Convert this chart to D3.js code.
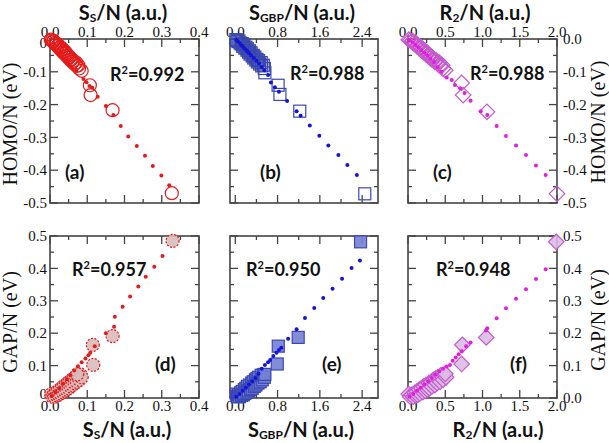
<!DOCTYPE html>
<html>
<head>
<meta charset="utf-8">
<script src="https://cdn.jsdelivr.net/npm/d3@7"></script>
<style>
  body { margin: 0; background: #fff; }
  text { fill: #111; }
</style>
</head>
<body>
<div id="plot"></div>
<script>
// tick values
const ticksSs = [0, 0.1, 0.2, 0.3, 0.4];
const ticksSgbp = [0, 0.8, 1.6, 2.4];
const ticksR2 = [0, 0.5, 1.0, 1.5, 2.0];
const ticksHomo = [0, -0.1, -0.2, -0.3, -0.4, -0.5];
const ticksGap = [0, 0.1, 0.2, 0.3, 0.4, 0.5];

const r2Values = ["0.992", "0.988", "0.988", "0.957", "0.950", "0.948"];
const panelNames = ["(a)", "(b)", "(c)", "(d)", "(e)", "(f)"];

// (a) Ss/N vs HOMO/N : big symbols, then small dots
const markersA = [[0.002,-0.002],[0.005,-0.004],[0.008,-0.008],[0.010,-0.006],[0.012,-0.012],[0.015,-0.015],
  [0.018,-0.014],[0.020,-0.022],[0.022,-0.018],[0.025,-0.028],[0.028,-0.025],[0.030,-0.034],[0.033,-0.030],
  [0.035,-0.040],[0.038,-0.036],[0.040,-0.046],[0.043,-0.042],[0.045,-0.052],[0.048,-0.050],[0.050,-0.058],
  [0.053,-0.055],[0.055,-0.064],[0.058,-0.062],[0.060,-0.070],[0.063,-0.066],[0.066,-0.076],[0.070,-0.072],
  [0.072,-0.082],[0.076,-0.080],[0.078,-0.090],[0.085,-0.097],[0.107,-0.141],[0.109,-0.171],[0.168,-0.217],
  [0.327,-0.470]];
const dotsA = [[0.01,-0.012],[0.03,-0.04],[0.05,-0.068],[0.07,-0.095],[0.09,-0.122],[0.098,-0.132],
  [0.106,-0.143],[0.113,-0.148],[0.128,-0.176],[0.150,-0.204],[0.170,-0.232],[0.190,-0.265],[0.210,-0.297],
  [0.233,-0.326],[0.255,-0.356],[0.276,-0.387],[0.299,-0.416],[0.320,-0.446]];

// (b) SGBP/N vs HOMO/N
const markersB = [[0.01,-0.002],[0.03,-0.004],[0.05,-0.008],[0.07,-0.006],[0.09,-0.012],[0.11,-0.015],
  [0.13,-0.014],[0.14,-0.022],[0.16,-0.018],[0.18,-0.028],[0.20,-0.025],[0.22,-0.034],[0.23,-0.030],
  [0.25,-0.040],[0.27,-0.036],[0.28,-0.046],[0.30,-0.042],[0.32,-0.052],[0.34,-0.050],[0.35,-0.058],
  [0.37,-0.055],[0.39,-0.064],[0.41,-0.062],[0.42,-0.070],[0.44,-0.066],[0.46,-0.076],[0.49,-0.072],
  [0.50,-0.082],[0.53,-0.080],[0.55,-0.090],[0.56,-0.103],[0.81,-0.141],[0.845,-0.169],[1.22,-0.220],
  [2.45,-0.472]];
const dotsB = [[0.02,-0.003],[0.05,-0.008],[0.08,-0.012],[0.11,-0.018],[0.14,-0.022],[0.17,-0.028],
  [0.20,-0.033],[0.23,-0.038],[0.26,-0.043],[0.30,-0.050],[0.35,-0.058],[0.40,-0.066],[0.45,-0.075],
  [0.50,-0.085],[0.55,-0.095],[0.62,-0.110],[0.675,-0.133],[0.75,-0.147],[0.826,-0.161],[0.98,-0.189],
  [1.16,-0.220],[1.236,-0.234],[1.41,-0.264],[1.59,-0.295],[1.76,-0.325],[1.95,-0.354],[2.12,-0.384],
  [2.30,-0.415]];

// (c) R2/N vs HOMO/N
const markersC = [[0.01,-0.002],[0.03,-0.004],[0.05,-0.008],[0.06,-0.006],[0.07,-0.012],[0.09,-0.015],
  [0.11,-0.014],[0.12,-0.022],[0.13,-0.018],[0.15,-0.028],[0.17,-0.025],[0.18,-0.034],[0.20,-0.030],
  [0.21,-0.040],[0.23,-0.036],[0.24,-0.046],[0.26,-0.042],[0.27,-0.052],[0.29,-0.050],[0.30,-0.058],
  [0.32,-0.055],[0.33,-0.064],[0.35,-0.062],[0.36,-0.070],[0.38,-0.066],[0.40,-0.076],[0.42,-0.072],
  [0.43,-0.082],[0.46,-0.080],[0.47,-0.090],[0.50,-0.095],[0.72,-0.134],[0.74,-0.171],[1.06,-0.222],
  [2.00,-0.472]];
const dotsC = [[0.02,-0.004],[0.06,-0.010],[0.10,-0.018],[0.14,-0.026],[0.18,-0.034],[0.22,-0.042],
  [0.26,-0.050],[0.30,-0.060],[0.35,-0.070],[0.40,-0.085],[0.45,-0.100],[0.52,-0.117],[0.587,-0.125],
  [0.63,-0.140],[0.70,-0.150],[0.76,-0.165],[0.84,-0.188],[0.976,-0.220],[1.064,-0.232],[1.19,-0.265],
  [1.315,-0.296],[1.45,-0.325],[1.584,-0.354],[1.718,-0.386],[1.848,-0.415]];

// (d) Ss/N vs GAP/N
const markersD = [[0.003,0.012],[0.006,0.004],[0.010,0.010],[0.012,0.004],[0.015,0.016],[0.018,0.008],
  [0.020,0.020],[0.023,0.010],[0.026,0.026],[0.028,0.014],[0.031,0.030],[0.034,0.018],[0.036,0.036],
  [0.039,0.022],[0.042,0.040],[0.044,0.026],[0.047,0.046],[0.050,0.030],[0.052,0.050],[0.055,0.036],
  [0.058,0.056],[0.060,0.040],[0.063,0.060],[0.066,0.046],[0.068,0.064],[0.072,0.050],[0.075,0.070],
  [0.079,0.056],[0.082,0.072],[0.085,0.064],[0.073,0.073],[0.116,0.102],[0.115,0.164],[0.168,0.191],
  [0.329,0.485]];
const dotsD = [[0.005,0.006],[0.015,0.018],[0.025,0.030],[0.035,0.045],[0.045,0.058],[0.055,0.070],
  [0.065,0.085],[0.075,0.098],[0.085,0.110],[0.095,0.122],[0.103,0.132],[0.108,0.140],[0.120,0.160],
  [0.150,0.200],[0.172,0.220],[0.174,0.251],[0.195,0.282],[0.215,0.313],[0.237,0.344],[0.257,0.374],
  [0.280,0.405],[0.302,0.438]];

// (e) SGBP/N vs GAP/N
const markersE = [[0.02,0.012],[0.04,0.004],[0.06,0.010],[0.08,0.004],[0.10,0.016],[0.12,0.008],
  [0.13,0.020],[0.15,0.010],[0.17,0.026],[0.18,0.014],[0.20,0.030],[0.22,0.018],[0.23,0.036],[0.25,0.022],
  [0.27,0.040],[0.29,0.026],[0.31,0.046],[0.32,0.030],[0.34,0.050],[0.36,0.036],[0.38,0.056],[0.39,0.040],
  [0.41,0.060],[0.43,0.046],[0.44,0.064],[0.47,0.050],[0.49,0.070],[0.51,0.056],[0.53,0.072],[0.55,0.064],
  [0.56,0.073],[0.794,0.105],[0.813,0.160],[1.19,0.187],[2.37,0.482]];
const dotsE = [[0.02,0.004],[0.08,0.012],[0.14,0.022],[0.20,0.032],[0.26,0.042],[0.32,0.052],[0.38,0.062],
  [0.44,0.075],[0.50,0.090],[0.56,0.102],[0.62,0.110],[0.66,0.117],[0.72,0.130],[0.78,0.140],[0.826,0.148],
  [0.87,0.155],[1.00,0.183],[1.16,0.212],[1.318,0.247],[1.494,0.278],[1.664,0.309],[1.84,0.337],
  [2.02,0.368],[2.20,0.401],[2.357,0.424]];

// (f) R2/N vs GAP/N
const markersF = [[0.01,0.012],[0.03,0.004],[0.05,0.010],[0.07,0.004],[0.09,0.016],[0.10,0.008],
  [0.12,0.020],[0.13,0.010],[0.15,0.026],[0.16,0.014],[0.18,0.030],[0.20,0.018],[0.21,0.036],[0.23,0.022],
  [0.24,0.040],[0.26,0.026],[0.28,0.046],[0.29,0.030],[0.31,0.050],[0.32,0.036],[0.34,0.056],[0.36,0.040],
  [0.37,0.060],[0.39,0.046],[0.40,0.064],[0.43,0.050],[0.44,0.070],[0.47,0.056],[0.49,0.072],[0.51,0.064],
  [0.50,0.075],[0.72,0.105],[0.73,0.164],[1.05,0.187],[1.99,0.482]];
const dotsF = [[0.02,0.004],[0.07,0.012],[0.12,0.022],[0.17,0.032],[0.22,0.042],[0.27,0.052],[0.32,0.062],
  [0.37,0.072],[0.42,0.082],[0.47,0.090],[0.52,0.097],[0.564,0.102],[0.60,0.115],[0.64,0.125],[0.68,0.135],
  [0.72,0.144],[0.78,0.160],[0.84,0.171],[1.047,0.208],[1.064,0.215],[1.19,0.246],[1.315,0.277],
  [1.45,0.306],[1.584,0.336],[1.718,0.367],[1.848,0.397]];

const width = 609;
const height = 443;

const svg = d3.select("div#plot")
  .append("svg")
  .attr("width", width)
  .attr("height", height);

const cols = [[50, 199], [230, 378], [408, 557]];
const rows = [[39, 203], [236, 398]];

const xDefs = [
  { domain: [0, 0.4], ticks: ticksSs, minor: 0.05 },
  { domain: [-0.1, 2.7], ticks: ticksSgbp, minor: 0.4 },
  { domain: [0, 2], ticks: ticksR2, minor: 0.25 }
];
const yDefs = [
  { domain: [-0.5, 0], ticks: ticksHomo, minor: 0.05 },
  { domain: [0, 0.5], ticks: ticksGap, minor: 0.05 }
];

const red = "#e31b1b", blue = "#1414d2", magenta = "#e21ee2";

const panels = [
  { c: 0, r: 0, marks: markersA, dots: dotsA, shape: "circle", stroke: red, fill: "none", dotColor: red,
    r2: [110, 81], tag: [65, 179] },
  { c: 1, r: 0, marks: markersB, dots: dotsB, shape: "square", stroke: "#3a48ae", fill: "none", dotColor: blue,
    r2: [290, 80], tag: [260, 179] },
  { c: 2, r: 0, marks: markersC, dots: dotsC, shape: "diamond", stroke: "#c45ccc", fill: "none", dotColor: magenta,
    r2: [470, 80], tag: [433, 179] },
  { c: 0, r: 1, marks: markersD, dots: dotsD, shape: "circle", stroke: red, fill: "#d8bcbc", dotColor: red,
    dash: "2,1.5", r2: [72, 276], tag: [155, 371] },
  { c: 1, r: 1, marks: markersE, dots: dotsE, shape: "square", stroke: "#3a48b4", fill: "#7680d4", dotColor: blue,
    r2: [246, 276], tag: [322, 371] },
  { c: 2, r: 1, marks: markersF, dots: dotsF, shape: "diamond", stroke: "#c45ccc", fill: "#dcbbe4", dotColor: magenta,
    r2: [436, 276], tag: [510, 371] }
];

const fmt = d => d.toFixed(1);
// left-hand y axes print zero as a bare "0"
const fmtLeft = d => d === 0 ? "0" : d.toFixed(1);
const serif = "'Liberation Serif', 'Times New Roman', serif";
const sans = "Lato, 'Open Sans', sans-serif";

function minorTicks(domain, step) {
  const out = [];
  const lo = Math.ceil(domain[0] / step - 1e-9), hi = Math.floor(domain[1] / step + 1e-9);
  for (let i = lo; i <= hi; i++) out.push(+(i * step).toFixed(6));
  return out;
}

panels.forEach((p, i) => {
  const [x0, x1] = cols[p.c];
  const [y0, y1] = rows[p.r];
  const xd = xDefs[p.c], yd = yDefs[p.r];
  const x = d3.scaleLinear().domain(xd.domain).range([x0, x1]);
  const y = d3.scaleLinear().domain(yd.domain).range([y1, y0]);
  const g = svg.append("g");

  // ticks (inside, on all four sides)
  const xMajor = xd.ticks.filter(t => t >= xd.domain[0] && t <= xd.domain[1]);
  const xMinor = minorTicks(xd.domain, xd.minor);
  const yMinor = minorTicks(yd.domain, yd.minor);
  const tickG = g.append("g").attr("stroke", "#444").attr("stroke-width", 1.3);
  xMinor.forEach(t => {
    const len = xMajor.some(m => Math.abs(m - t) < 1e-6) ? 8 : 4;
    tickG.append("line").attr("x1", x(t)).attr("x2", x(t)).attr("y1", y1).attr("y2", y1 - len);
    tickG.append("line").attr("x1", x(t)).attr("x2", x(t)).attr("y1", y0).attr("y2", y0 + len);
  });
  yMinor.forEach(t => {
    const len = yd.ticks.some(m => Math.abs(m - t) < 1e-6) ? 8 : 4;
    tickG.append("line").attr("y1", y(t)).attr("y2", y(t)).attr("x1", x0).attr("x2", x0 + len);
    tickG.append("line").attr("y1", y(t)).attr("y2", y(t)).attr("x1", x1).attr("x2", x1 - len);
  });

  g.append("rect")
    .attr("x", x0).attr("y", y0)
    .attr("width", x1 - x0).attr("height", y1 - y0)
    .attr("fill", "none").attr("stroke", "#444").attr("stroke-width", 1.6);

  // x tick labels: top row above, bottom row below
  g.selectAll(".xl")
    .data(xMajor)
    .enter().append("text")
    .attr("x", d => x(d))
    .attr("y", p.r === 0 ? y0 - 2 : y1 + 13)
    .attr("text-anchor", "middle")
    .style("font-family", serif)
    .style("font-size", "15px")
    .text(fmt);

  // y tick labels: left column on the left, right column on the right
  if (p.c !== 1) {
    // the corner "0" on the left axes sits a little inward, clear of the x labels
    const nudge = d => (p.c === 0 && d === 0) ? (p.r === 0 ? 4 : -4) : 0;
    g.selectAll(".yl")
      .data(yd.ticks)
      .enter().append("text")
      .attr("x", p.c === 0 ? x0 - 3 : x1 + 6)
      .attr("y", d => y(d) + nudge(d))
      .attr("dy", "0.35em")
      .attr("text-anchor", p.c === 0 ? "end" : "start")
      .style("font-family", serif)
      .style("font-size", "15px")
      .text(p.c === 0 ? fmtLeft : fmt);
  }

  // big symbols
  const sym = g.selectAll(".m")
    .data(p.marks)
    .enter();
  let marks;
  if (p.shape === "circle") {
    marks = sym.append("circle")
      .attr("cx", d => x(d[0])).attr("cy", d => y(d[1])).attr("r", 6.5);
  } else if (p.shape === "square") {
    marks = sym.append("rect")
      .attr("x", d => x(d[0]) - 6).attr("y", d => y(d[1]) - 6)
      .attr("width", 12).attr("height", 12);
  } else {
    marks = sym.append("rect")
      .attr("x", -5.5).attr("y", -5.5).attr("width", 11).attr("height", 11)
      .attr("transform", d => `translate(${x(d[0])},${y(d[1])}) rotate(45)`);
  }
  marks.attr("fill", p.fill)
    .attr("fill-opacity", p.fill === "none" ? null : 0.9)
    .attr("stroke", p.stroke)
    .attr("stroke-width", 1.2)
    .attr("stroke-dasharray", p.dash || null);

  // small dots
  g.selectAll(".dot")
    .data(p.dots)
    .enter().append("circle")
    .attr("cx", d => x(d[0]))
    .attr("cy", d => y(d[1]))
    .attr("r", 2)
    .attr("fill", p.dotColor);

  // R^2 label
  const rt = g.append("text")
    .attr("x", p.r2[0]).attr("y", p.r2[1])
    .style("font-family", sans)
    .style("font-weight", "bold")
    .style("font-size", "18px");
  rt.append("tspan").text("R");
  rt.append("tspan").attr("dy", -7).style("font-size", "11px").text("2");
  rt.append("tspan").attr("dy", 7).text("=" + r2Values[i]);

  g.append("text")
    .attr("x", p.tag[0]).attr("y", p.tag[1])
    .style("font-family", sans)
    .style("font-weight", "bold")
    .style("font-size", "19px")
    .text(panelNames[i]);
});

// axis titles
const xTitles = [
  { main: "S", sub: "S", rest: "/N (a.u.)" },
  { main: "S", sub: "GBP", rest: "/N (a.u.)" },
  { main: "R", sub: "2", rest: "/N (a.u.)" }
];
const topX = [123, 302, 485];
const bottomX = [127, 301, 498];

function xTitle(t, cx, cy) {
  const tx = svg.append("text")
    .attr("x", cx).attr("y", cy)
    .attr("text-anchor", "middle")
    .style("font-family", sans)
    .style("font-weight", "bold")
    .style("font-size", "20px");
  tx.append("tspan").text(t.main);
  tx.append("tspan").attr("dy", 2).style("font-size", "12px").text(t.sub);
  tx.append("tspan").attr("dy", -2).text(t.rest);
}
xTitles.forEach((t, i) => {
  xTitle(t, topX[i], 20);
  xTitle(t, bottomX[i], 437);
});

function yTitle(label, bx, cy) {
  svg.append("text")
    .attr("transform", `translate(${bx},${cy}) rotate(-90)`)
    .attr("text-anchor", "middle")
    .style("font-family", serif)
    .style("font-size", "20px")
    .text(label);
}
yTitle("HOMO/N (eV)", 17, 124);
yTitle("GAP/N (eV)", 17, 322);
yTitle("HOMO/N (eV)", 605, 122);
yTitle("GAP/N (eV)", 605, 320);
</script>
</body>
</html>
